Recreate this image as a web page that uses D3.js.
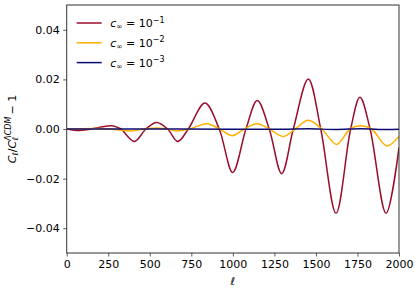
<!DOCTYPE html>
<html>
<head>
<meta charset="utf-8">
<script src="https://cdn.jsdelivr.net/npm/d3@7"></script>
<style>
  body { margin: 0; background: #fff; }
  svg text { font-family: "DejaVu Sans", sans-serif; fill: #000; }
</style>
</head>
<body>
<svg id="chart" width="416" height="291"></svg>
<script>
// multipole ℓ and fractional difference
const ellRed = [0, 60, 130, 200, 267, 300, 327, 407, 477, 541, 607, 668, 732, 832, 918, 999, 1079, 1147, 1219, 1294, 1364, 1454, 1529, 1621, 1709, 1765, 1826, 1922, 2000];
const valRed = [0, -0.0006, -0.0002, 0.0007, 0.0013, 0.0008, 0, -0.005, 0, 0.0026, 0, -0.005, 0, 0.0105, 0, -0.0175, 0, 0.0115, 0, -0.018, 0, 0.0202, 0, -0.034, 0, 0.0128, 0, -0.034, -0.0075];

const ellYel = [0, 200, 300, 391, 470, 541, 600, 662, 740, 842, 920, 996, 1070, 1145, 1220, 1304, 1375, 1454, 1535, 1625, 1705, 1769, 1835, 1926, 2000];
const valYel = [0, 0.0002, -0.0003, -0.0008, 0, 0.0004, 0, -0.0008, 0, 0.0021, 0, -0.0027, 0, 0.0021, 0, -0.003, 0, 0.0035, 0, -0.0062, 0, 0.0013, 0, -0.0068, -0.003];

const ellBlue = [0, 500, 1000, 1300, 1454, 1625, 1769, 1926, 2000];
const valBlue = [0, 0, -0.0001, -0.0001, 0.0001, -0.0002, 0.0001, -0.0002, -0.0001];

const labels = ['10', '10', '10'];
const exps = ['\u22121', '\u22122', '\u22123'];
const colors = ['#9b0e2c', '#ffb000', '#0b0b74'];

const xTicks = [0, 250, 500, 750, 1000, 1250, 1500, 1750, 2000];
const yTicks = [-0.04, -0.02, 0, 0.02, 0.04];

const svg = d3.select('#chart');
const margin = { top: 5, right: 17, bottom: 38, left: 66.7 };
const innerWidth = 416 - margin.left - margin.right;
const innerHeight = 291 - margin.top - margin.bottom;

const g = svg.append('g')
    .attr('transform', 'translate(' + margin.left + ',' + margin.top + ')');

const xScale = d3.scaleLinear().domain([0, 2000]).range([0, innerWidth]);
const yScale = d3.scaleLinear().domain([-0.05, 0.05]).range([innerHeight, 0]);

const series = [
    { ell: ellRed, val: valRed },
    { ell: ellYel, val: valYel },
    { ell: ellBlue, val: valBlue }
];

const line = d3.line()
    .x(d => xScale(d[0]))
    .y(d => yScale(d[1]))
    .curve(d3.curveCatmullRom.alpha(0.5));

g.append('defs').append('clipPath').attr('id', 'clip')
  .append('rect').attr('width', innerWidth).attr('height', innerHeight);

series.forEach((s, i) => {
    g.append('path')
        .datum(s.ell.map((e, j) => [e, s.val[j]]))
        .attr('clip-path', 'url(#clip)')
        .attr('fill', 'none')
        .attr('stroke', colors[i])
        .attr('stroke-width', 1.5)
        .attr('d', line);
});

// axes
const fmt = d => d3.format('.2f')(d).replace('-', '\u2212');
const xAxis = g.append('g')
    .attr('transform', 'translate(0,' + innerHeight + ')')
    .call(d3.axisBottom(xScale).tickValues(xTicks).tickFormat(d3.format('d')).tickSize(3.5).tickPadding(3.5));
const yAxis = g.append('g')
    .call(d3.axisLeft(yScale).tickValues(yTicks).tickFormat(fmt).tickSize(3.5).tickPadding(3.5));

[xAxis, yAxis].forEach(a => {
    a.select('.domain').remove();
    a.selectAll('.tick line').attr('stroke', '#333').attr('stroke-width', 0.8);
    a.selectAll('.tick text').attr('font-size', 11).attr('font-family', '"DejaVu Sans", sans-serif').attr('fill', '#000');
});

g.append('rect')
    .attr('width', innerWidth)
    .attr('height', innerHeight)
    .attr('fill', 'none')
    .attr('stroke', '#333')
    .attr('stroke-width', 1);

// axis labels
g.append('text')
    .attr('x', innerWidth / 2)
    .attr('y', innerHeight + 32)
    .attr('text-anchor', 'middle')
    .attr('font-size', 11)
    .attr('font-style', 'italic')
    .text('\u2113');

const yl = g.append('text')
    .attr('transform', 'translate(' + (-51) + ',' + (innerHeight / 2) + ') rotate(-90)')
    .attr('text-anchor', 'middle')
    .attr('font-size', 11);
yl.append('tspan').attr('font-style', 'italic').text('C');
yl.append('tspan').attr('font-style', 'italic').attr('font-size', 8).attr('dy', 2).text('\u2113');
yl.append('tspan').attr('dy', -2).text('/');
yl.append('tspan').attr('font-style', 'italic').text('C');
const sup = yl.append('tspan').attr('font-style', 'italic').attr('font-size', 8).attr('dy', -4.5).text('\u039BCDM');
const sub = yl.append('tspan').attr('font-style', 'italic').attr('font-size', 8).attr('dy', 7).text('\u2113');
const rest = yl.append('tspan').attr('dy', -2.5).text('\u2009\u2212 1');
const supW = sup.node().getComputedTextLength();
const subW = sub.node().getComputedTextLength();
sub.attr('dx', -supW + 0.5);
rest.attr('dx', supW - subW - 0.5);

// legend
const legend = g.append('g').attr('transform', 'translate(10,18)');
labels.forEach((lab, i) => {
    const row = legend.append('g').attr('transform', 'translate(0,' + (i * 19.8) + ')');
    row.append('line')
        .attr('x1', 0).attr('x2', 25)
        .attr('stroke', colors[i]).attr('stroke-width', 1.5);
    const t = row.append('text')
        .attr('x', 33.5)
        .attr('y', 4)
        .attr('font-size', 11);
    t.append('tspan').attr('font-style', 'italic').text('c');
    t.append('tspan').attr('font-size', 7.5).attr('dy', 2).text('\u221E');
    t.append('tspan').attr('dy', -2).text(' = ' + lab);
    t.append('tspan').attr('font-size', 8).attr('dy', -4.5).text(exps[i]);
});
</script>
</body>
</html>
